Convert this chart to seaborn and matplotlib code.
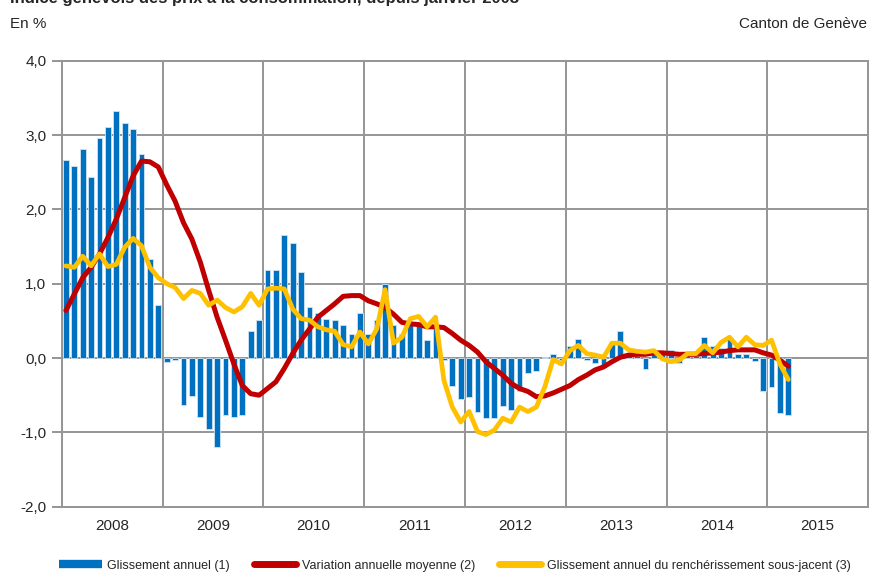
import numpy as np
import pandas as pd
import matplotlib
matplotlib.use('Agg')
import matplotlib.pyplot as plt
from matplotlib.lines import Line2D
import seaborn as sns

# Monthly data, January 2008 - March 2015
years = ['2008', '2009', '2010', '2011', '2012', '2013', '2014', '2015']

glissement = [
    2.66, 2.59, 2.81, 2.43, 2.96, 3.11, 3.32, 3.16, 3.08, 2.75, 1.33, 0.71,      # 2008
    -0.06, -0.02, -0.63, -0.51, -0.79, -0.96, -1.20, -0.76, -0.79, -0.76, 0.36, 0.51,  # 2009
    1.18, 1.18, 1.66, 1.55, 1.16, 0.68, 0.61, 0.53, 0.51, 0.44, 0.32, 0.61,      # 2010
    0.33, 0.51, 1.00, 0.44, 0.32, 0.49, 0.49, 0.24, 0.44, -0.03, -0.38, -0.55,   # 2011
    -0.53, -0.72, -0.81, -0.81, -0.65, -0.70, -0.44, -0.20, -0.18, 0.01, 0.05, -0.02,  # 2012
    0.16, 0.25, -0.03, -0.07, -0.12, 0.21, 0.37, 0.07, 0.03, -0.15, 0.05, 0.05,  # 2013
    0.11, -0.07, 0.03, 0.03, 0.28, 0.16, 0.13, 0.25, 0.06, 0.05, -0.04, -0.45,   # 2014
    -0.39, -0.74, -0.76,                                                         # 2015
]

variation_moyenne = [
    0.64, 0.86, 1.08, 1.22, 1.40, 1.62, 1.87, 2.16, 2.45, 2.65, 2.64, 2.57,
    2.33, 2.11, 1.82, 1.60, 1.29, 0.91, 0.55, 0.24, -0.08, -0.37, -0.48, -0.50,
    -0.41, -0.32, -0.14, 0.06, 0.24, 0.39, 0.55, 0.64, 0.73, 0.83, 0.84, 0.84,
    0.77, 0.73, 0.68, 0.59, 0.48, 0.46, 0.45, 0.42, 0.42, 0.41, 0.33, 0.24,
    0.17, 0.08, -0.05, -0.14, -0.23, -0.34, -0.41, -0.45, -0.52, -0.51, -0.47, -0.42,
    -0.37, -0.29, -0.23, -0.16, -0.12, -0.05, 0.01, 0.04, 0.05, 0.05, 0.07, 0.07,
    0.06, 0.05, 0.05, 0.05, 0.06, 0.07, 0.08, 0.10, 0.11, 0.11, 0.11, 0.07,
    0.04, -0.03, -0.11,
]

sous_jacent = [
    1.24, 1.22, 1.37, 1.24, 1.40, 1.23, 1.26, 1.49, 1.61, 1.51, 1.22, 1.08,
    1.00, 0.95, 0.80, 0.91, 0.87, 0.71, 0.78, 0.68, 0.62, 0.69, 0.87, 0.71,
    0.93, 0.94, 0.93, 0.66, 0.53, 0.51, 0.42, 0.38, 0.36, 0.18, 0.15, 0.35,
    0.19, 0.39, 0.92, 0.20, 0.28, 0.53, 0.56, 0.42, 0.55, -0.30, -0.66, -0.86,
    -0.72, -0.99, -1.03, -0.97, -0.81, -0.86, -0.66, -0.72, -0.66, -0.39, -0.02, -0.08,
    0.10, 0.17, 0.06, 0.04, 0.01, 0.20, 0.20, 0.11, 0.09, 0.08, 0.10, -0.01,
    -0.05, -0.03, 0.06, 0.06, 0.17, 0.07, 0.21, 0.28, 0.15, 0.28, 0.18, 0.17,
    0.24, -0.08, -0.29,
]

y_ticks = [4.0, 3.0, 2.0, 1.0, 0.0, -1.0, -2.0]

blue = '#0070C0'
red = '#C00000'
yellow = '#FFC000'
grid_col = '#959595'

sns.set_style('white')
plt.rcParams['font.family'] = ['Liberation Sans', 'DejaVu Sans']

df = pd.DataFrame({
    'month': np.arange(len(glissement)) + 0.5,
    'glissement': glissement,
    'moyenne': variation_moyenne,
    'sousjacent': sous_jacent,
})

fig = plt.figure(figsize=(8.69, 5.75), dpi=100)
ax = fig.add_axes([0.071, 0.1188, 0.928, 0.7756])

# grid
for y in y_ticks:
    ax.axhline(y, color=grid_col, lw=1.4, zorder=0)
for k in range(len(years) + 1):
    ax.axvline(12 * k, color=grid_col, lw=1.4, zorder=0)

sns.barplot(data=df, x='month', y='glissement', native_scale=True, width=0.7,
            color=blue, saturation=1, edgecolor='#cfe3f3', linewidth=0.6,
            ax=ax, zorder=2)
sns.lineplot(data=df, x='month', y='moyenne', color=red, lw=3.6, ax=ax,
             zorder=3, solid_joinstyle='round')
sns.lineplot(data=df, x='month', y='sousjacent', color=yellow, lw=3.4, ax=ax,
             zorder=4, solid_joinstyle='round')

ax.set_xlim(0, 12 * len(years))
ax.set_ylim(-2, 4)
ax.set_xlabel('')
ax.set_ylabel('')

ax.set_yticks(y_ticks)
ax.set_yticklabels([f'{v:.1f}'.replace('.', ',') for v in y_ticks], fontsize=11)
ax.tick_params(axis='y', length=7, width=1.4, color=grid_col, pad=4, left=True)

ax.set_xticks([12 * i + 6 for i in range(len(years))])
ax.set_xticklabels(years, fontsize=11)
ax.tick_params(axis='x', length=0, pad=9)

for s in ax.spines.values():
    s.set_color(grid_col)
    s.set_linewidth(1.4)

fig.text(0.012, 1.003, 'Indice genevois des prix à la consommation, depuis janvier 2008',
         fontsize=12, fontweight='bold', ha='left', va='center')
fig.text(0.012, 0.958, 'En %', fontsize=11, ha='left', va='center')
fig.text(0.998, 0.958, 'Canton de Genève', fontsize=11, ha='right', va='center')

handles = [
    Line2D([0], [0], color=blue, lw=6, solid_capstyle='butt'),
    Line2D([0], [0], color=red, lw=5, solid_capstyle='round'),
    Line2D([0], [0], color=yellow, lw=5, solid_capstyle='round'),
]
labels = ['Glissement annuel (1)', 'Variation annuelle moyenne (2)',
          'Glissement annuel du renchérissement sous-jacent (3)']
fig.legend(handles, labels, loc='center left', bbox_to_anchor=(0.055, 0.016),
           ncol=3, frameon=False, fontsize=9, handlelength=3.4,
           handletextpad=0.45, columnspacing=1.9)

fig.savefig('out.png', dpi=100)
